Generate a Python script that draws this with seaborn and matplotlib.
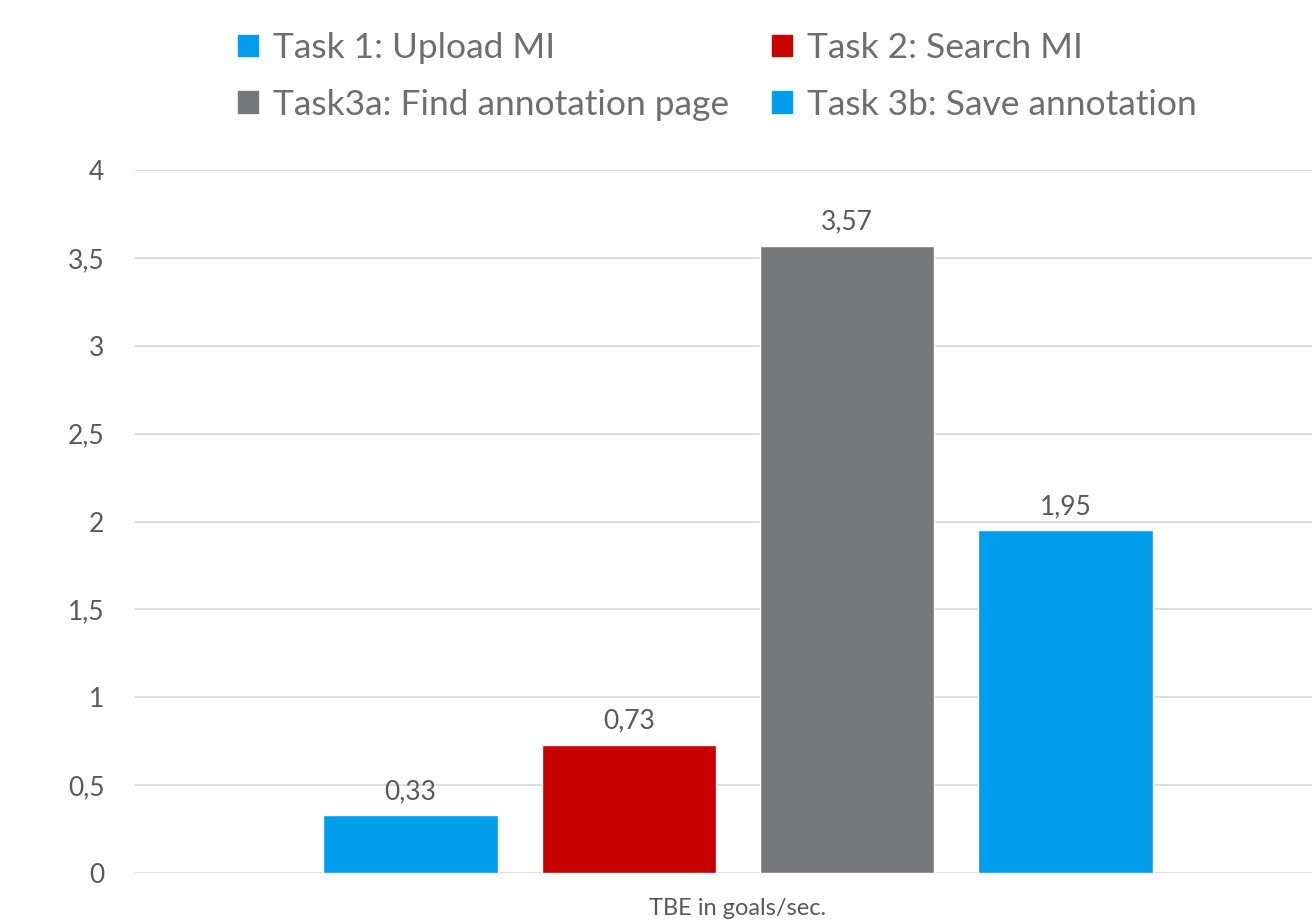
import pandas as pd
import matplotlib.pyplot as plt
import seaborn as sns

tasks = ["Task 1: Upload MI", "Task 2: Search MI", "Task3a: Find annotation page", "Task 3b: Save annotation"]
values = [0.33, 0.73, 3.57, 1.95]
colors = ["#009EEC", "#C80000", "#77787B", "#009EEC"]
category = "TBE in goals/sec."
yticks = [0, 0.5, 1, 1.5, 2, 2.5, 3, 3.5, 4]

df = pd.DataFrame({"cat": [category] * 4, "task": tasks, "val": values})

sns.set_style("white")
plt.rcParams["font.family"] = ["Lato", "DejaVu Sans"]
txt = "#595959"

fig = plt.figure(figsize=(13.12, 9.24), dpi=100)
ax = fig.add_axes([135 / 1312, (924 - 873) / 924, 1206 / 1312, 703 / 924])

sns.barplot(data=df, x="cat", y="val", hue="task", palette=colors, width=0.724, gap=0.2,
            saturation=1, ax=ax, legend=False)

for c, v in zip(ax.containers, values):
    ax.bar_label(c, labels=[f"{v:.2f}".replace(".", ",")], padding=8, fontsize=19, color=txt)

ax.set_ylim(0, 4)
ax.set_yticks(yticks)
ax.set_yticklabels([f"{t:g}".replace(".", ",") for t in yticks], fontsize=19, color=txt)
ax.tick_params(axis="y", length=0, pad=22)
ax.tick_params(axis="x", length=0, labelsize=17, labelcolor=txt, pad=18)
ax.set_xlabel("")
ax.set_ylabel("")
ax.yaxis.grid(True, color="#D9D9D9", linewidth=1.2)
ax.set_axisbelow(True)
for s in ax.spines.values():
    s.set_visible(False)

# row-major order like the original legend
order = [0, 2, 1, 3]
handles = [plt.Rectangle((0, 0), 1, 1, color=colors[i]) for i in order]
fig.legend(handles, [tasks[i] for i in order], ncol=2, loc="upper left",
           bbox_to_anchor=(238 / 1312, 1 - 32 / 924), frameon=False, fontsize=25.5,
           labelcolor="#6E6E6E", handlelength=0.57, handleheight=0.57, handletextpad=0.43,
           columnspacing=1.2, labelspacing=0.7, borderpad=0, borderaxespad=0)

fig.savefig("out.png", dpi=100)
